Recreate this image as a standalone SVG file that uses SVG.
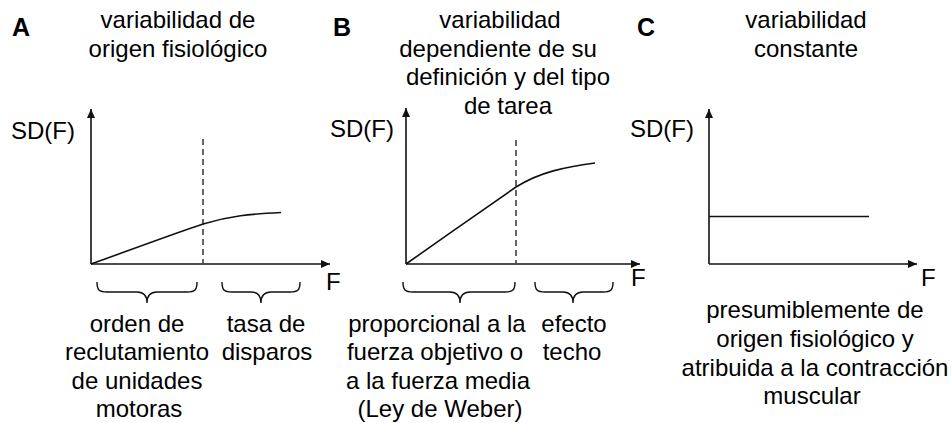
<svg xmlns="http://www.w3.org/2000/svg" width="952" height="423" viewBox="0 0 952 423">
  <style>
    text { font-family: "Liberation Sans", Arial, sans-serif; font-size: 24px; fill: #000; }
    .lbl { font-weight: bold; font-size: 25px; }
    .c { text-anchor: middle; }
    .ax { stroke: #111; stroke-width: 1.6; fill: none; }
    .curve { stroke: #111; stroke-width: 1.6; fill: none; }
    .dash { stroke: #333; stroke-width: 1.5; stroke-dasharray: 6 4; fill: none; }
    .brace { stroke: #111; stroke-width: 1.4; fill: none; }
  </style>
  <defs>
    <marker id="arr" markerUnits="userSpaceOnUse" markerWidth="10" markerHeight="8" refX="9" refY="4" orient="auto">
      <path d="M0,0 L9,4 L0,8 Z" fill="#111"/>
    </marker>
  </defs>
  <rect width="952" height="423" fill="#fff"/>

  <g id="panelA">
    <text class="lbl" x="12" y="36">A</text>
    <text class="c" x="178" y="28">variabilidad de</text>
    <text class="c" x="178" y="57">origen fisiológico</text>
    <text x="11" y="139">SD(F)</text>
    <text x="326" y="290">F</text>
    <text class="c" x="137" y="332">orden de</text>
    <text class="c" x="137" y="360">reclutamiento</text>
    <text class="c" x="137" y="389">de unidades</text>
    <text class="c" x="139" y="417">motoras</text>
    <text class="c" x="266" y="332">tasa de</text>
    <text class="c" x="267" y="360">disparos</text>
  </g>

  <g id="panelB">
    <text class="lbl" x="333" y="36">B</text>
    <text class="c" x="500" y="28">variabilidad</text>
    <text class="c" x="498" y="57">dependiente de su</text>
    <text class="c" x="508" y="85">definición y del tipo</text>
    <text class="c" x="508" y="114">de tarea</text>
    <text x="330" y="137">SD(F)</text>
    <text x="631" y="286">F</text>
    <text class="c" x="437" y="332">proporcional a la</text>
    <text class="c" x="435" y="360">fuerza objetivo o</text>
    <text class="c" x="438" y="389">a la fuerza media</text>
    <text class="c" x="440" y="417">(Ley de Weber)</text>
    <text class="c" x="574" y="332">efecto</text>
    <text class="c" x="572" y="360">techo</text>
  </g>

  <g id="panelC">
    <text class="lbl" x="637" y="36">C</text>
    <text class="c" x="806" y="28">variabilidad</text>
    <text class="c" x="806" y="57">constante</text>
    <text x="630" y="137">SD(F)</text>
    <text x="921" y="286">F</text>
    <text class="c" x="815" y="318">presumiblemente de</text>
    <text class="c" x="815" y="347">origen fisiológico y</text>
    <text class="c" x="815" y="376">atribuida a la contracción</text>
    <text class="c" x="812" y="404">muscular</text>
  </g>

  <g id="connectors">
    <!-- Panel A -->
    <line class="ax" x1="91" y1="264" x2="91" y2="109" marker-end="url(#arr)"/>
    <line class="ax" x1="91" y1="264" x2="330" y2="264" marker-end="url(#arr)"/>
    <line class="dash" x1="203" y1="139" x2="203" y2="263"/>
    <path class="curve" d="M91,264 C125,252 170,235 203,224 C230,216 250,214 281,212.5"/>
    <path class="brace" d="M97,282 C97,290 99,292 107,292 L137,292 C144,292 147,296 147,303 C147,296 150,292 157,292 L187,292 C195,292 197,290 197,282"/>
    <path class="brace" d="M222,282 C222,290 224,292 232,292 L251,292 C258,292 261,296 261,303 C261,296 264,292 271,292 L290,292 C298,292 300,290 300,282"/>

    <!-- Panel B -->
    <line class="ax" x1="406" y1="264" x2="406" y2="108" marker-end="url(#arr)"/>
    <line class="ax" x1="406" y1="264" x2="640" y2="264" marker-end="url(#arr)"/>
    <line class="dash" x1="516" y1="140" x2="516" y2="263"/>
    <path class="curve" d="M406,264 C440,240 490,205 516,187 C540,172 565,167 595,163"/>
    <path class="brace" d="M403,282 C403,290 405,292 413,292 L450,292 C457,292 460,296 460,303 C460,296 463,292 470,292 L505,292 C513,292 515,290 515,282"/>
    <path class="brace" d="M535,282 C535,290 537,292 545,292 L563,292 C570,292 573,296 573,303 C573,296 576,292 583,292 L603,292 C611,292 613,290 613,282"/>

    <!-- Panel C -->
    <line class="ax" x1="709" y1="264" x2="709" y2="109" marker-end="url(#arr)"/>
    <line class="ax" x1="709" y1="264" x2="917" y2="264" marker-end="url(#arr)"/>
    <line class="curve" x1="709" y1="216.5" x2="869" y2="216.5"/>
  </g>
</svg>
